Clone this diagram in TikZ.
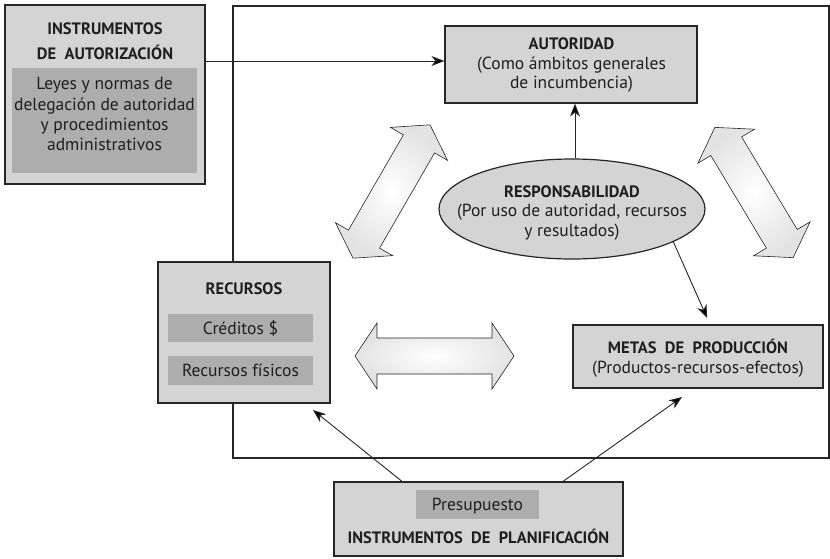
\documentclass[tikz,border=0pt]{standalone}
\usepackage{fontspec}
\setmainfont{PT Sans}
\usetikzlibrary{shapes.geometric,arrows.meta,calc}
\definecolor{boxgray}{gray}{0.83}
\definecolor{ingray}{gray}{0.68}
\definecolor{edge}{gray}{0.15}
\definecolor{txt}{gray}{0.12}
\newcommand\ttlfont{\bfseries\fontsize{16.5}{19}\selectfont}
\newcommand\bodyfont{\fontsize{17.5}{20}\selectfont}
\begin{document}
\begin{tikzpicture}[x=1pt,y=-1pt,
  outbox/.style={draw=edge,line width=1.2pt,fill=boxgray,inner sep=0pt,rectangle},
  inbox/.style={fill=ingray,inner sep=0pt,rectangle},
  ttl/.style={anchor=base,inner sep=0pt,text=txt,font=\ttlfont},
  body/.style={anchor=base,inner sep=0pt,text=txt,font=\bodyfont},
  arr/.style={draw=edge,line width=0.9pt,-{Stealth[length=13pt,width=10pt,inset=4pt,fill=black]}},
  dblarrow/.pic={\path[draw=edge,line width=0.6pt,inner color=white,outer color=gray!22]
     (-#1,0) -- (-#1+22,-33) -- (-#1+22,-18) -- (#1-22,-18) -- (#1-22,-33) -- (#1,0)
     -- (#1-22,33) -- (#1-22,18) -- (-#1+22,18) -- (-#1+22,33) -- cycle;}
]
\useasboundingbox (0,0) rectangle (830,558);
% frame
\node[draw=edge,line width=1.2pt,inner sep=0pt,minimum width=596,minimum height=452] (frame) at (531,232) {};

% autorizacion box
\node[outbox,minimum width=200,minimum height=179] (autoriz) at (105,94.5) {};
\node[inbox,minimum width=185,minimum height=105] (autorizin) at (104.5,120.5) {};
\node[ttl] (a1) at (105,34) {INSTRUMENTOS};
\node[ttl] (a2) at (105,59) {DE\ \ AUTORIZACIÓN};
\node[body] (a3) at (104.5,89) {Leyes y normas de};
\node[body] (a4) at (104.5,110) {delegación de autoridad};
\node[body] (a5) at (104.5,130) {y procedimientos};
\node[body] (a6) at (104.5,150) {administrativos};

% autoridad
\node[outbox,minimum width=252,minimum height=77] (autoridad) at (571,64.5) {};
\node[ttl] (b1) at (571.5,49) {AUTORIDAD};
\node[body] (b2) at (571.5,69) {(Como ámbitos generales};
\node[body] (b3) at (571.5,88) {de incumbencia)};

% responsabilidad
\node[ellipse,draw=edge,line width=1.2pt,fill=boxgray,inner sep=0pt,minimum width=266,minimum height=100] (resp) at (572,209) {};
\node[ttl] (c1) at (572,197) {RESPONSABILIDAD};
\node[body] (c2) at (572,216) {(Por uso de autoridad, recursos};
\node[body] (c3) at (572,236) {y resultados)};

% recursos
\node[outbox,minimum width=172,minimum height=141] (recursos) at (244,332.5) {};
\node[ttl] (d1) at (244,294) {RECURSOS};
\node[inbox,minimum width=145,minimum height=28] (cred) at (240.5,328) {};
\node[inbox,minimum width=145,minimum height=29] (fis) at (240.5,370.5) {};
\node[body] (d2) at (240.5,334) {Créditos \$};
\node[body] (d3) at (240.5,376.5) {Recursos físicos};

% metas
\node[outbox,minimum width=250,minimum height=63] (metas) at (698,356.5) {};
\node[ttl] (e1) at (698,353) {METAS\ \ DE\ \ PRODUCCIÓN};
\node[body] (e2) at (698,373) {(Productos-recursos-efectos)};

% planificacion
\node[outbox,minimum width=289,minimum height=74] (planif) at (478.5,519) {};
\node[inbox,minimum width=123,minimum height=29] (presu) at (477.5,504.5) {};
\node[body] (f1) at (477.5,510.5) {Presupuesto};
\node[ttl] (f2) at (478.5,543) {INSTRUMENTOS\ \ DE\ \ PLANIFICACIÓN};

% double arrows
\pic at (434.5,356) {dblarrow=79.5};
\pic[rotate=60] at (391.5,191.5) {dblarrow=77};
\pic[rotate=-59] at (754,192.5) {dblarrow=76};

% connectors
\draw[arr] (autoriz.east |- 0,61) -- (autoridad.west |- 0,61);
\draw[arr] (resp.north -| 575,0) -- (autoridad.south -| 575,0);
\draw[arr,shorten >=7pt] (resp.-18) -- (metas.north -| 710,0);
\coordinate (rectip) at (313,410);
\coordinate (metatip) at (682,397);
\draw[arr] (planif.north -| 402,0) -- (rectip);
\draw[arr] (planif.north -| 563,0) -- (metatip);
\end{tikzpicture}
\end{document}
